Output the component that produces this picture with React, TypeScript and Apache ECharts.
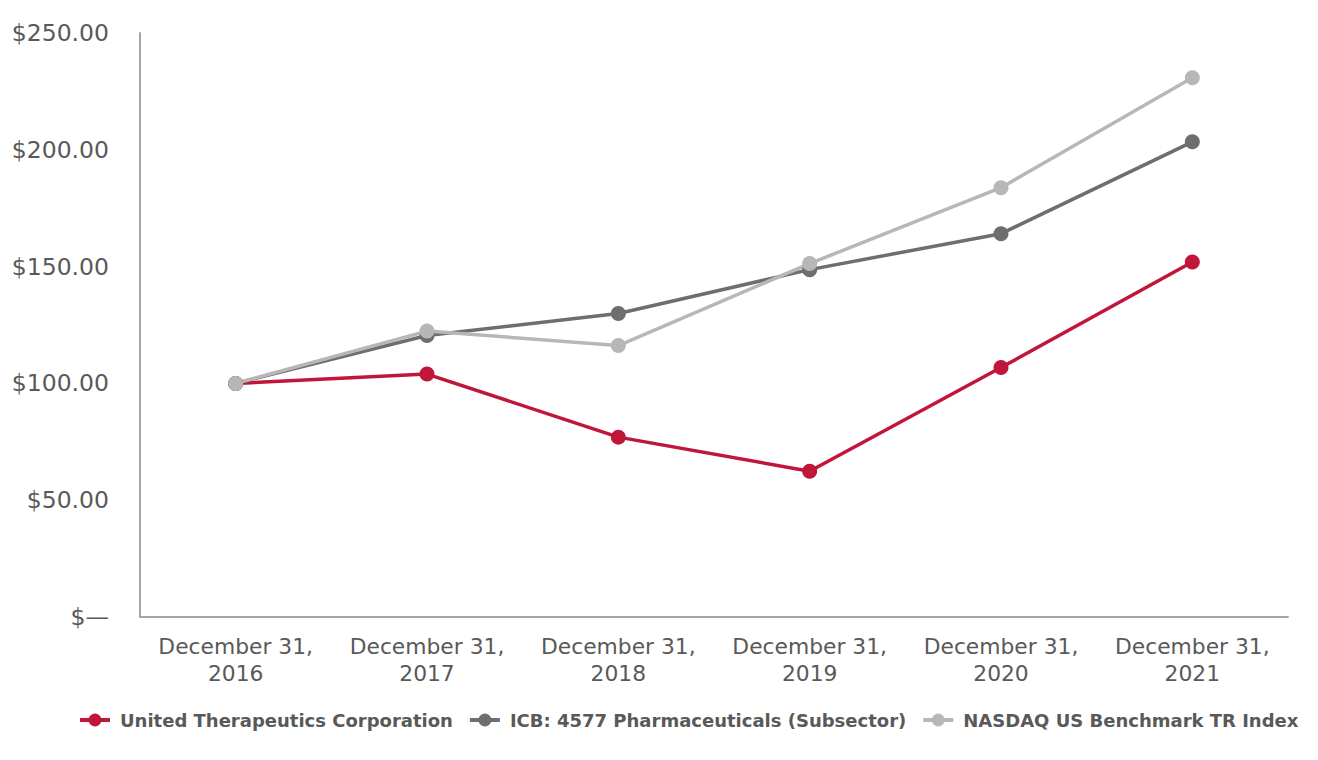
import React, { useEffect, useRef } from "react";
import * as echarts from "echarts";

const categories = [
  "December 31,\n2016",
  "December 31,\n2017",
  "December 31,\n2018",
  "December 31,\n2019",
  "December 31,\n2020",
  "December 31,\n2021",
];
const uthr = [100, 104.0, 77.0, 62.4, 106.8, 152.0];
const icb = [100, 120.5, 129.9, 148.7, 164.1, 203.4];
const nasdaq = [100, 122.4, 116.2, 151.3, 183.8, 230.8];
const seriesNames = [
  "United Therapeutics Corporation",
  "ICB: 4577 Pharmaceuticals (Subsector)",
  "NASDAQ US Benchmark TR Index",
];
const colors = ["#c0163a", "#6e6e6e", "#b7b7b7"];

export default function App() {
  const ref = useRef<HTMLDivElement>(null);
  useEffect(() => {
    if (!ref.current) return;
    const chart = echarts.init(ref.current, null, { renderer: "svg" });
    const font = "'DejaVu Sans', sans-serif";
    const mk = (name: string, data: number[], color: string) => ({
      name,
      type: "line",
      data,
      symbol: "circle",
      symbolSize: 15,
      lineStyle: { width: 3.5, color },
      itemStyle: { color },
      emphasis: { disabled: true },
    });
    chart.setOption({
      animation: false,
      textStyle: { fontFamily: font },
      grid: { left: 132, right: 22, top: 25, bottom: 135, containLabel: false },
      legend: {
        top: 703,
        left: 70,
        width: 1240,
        padding: 0,
        itemWidth: 30,
        itemHeight: 16,
        itemGap: 15,
        lineStyle: { width: 4 },
        textStyle: { fontFamily: font, fontSize: 18, fontWeight: "bold", color: "#595959", padding: [0, 0, 0, 5] },
        data: seriesNames,
      },
      xAxis: {
        type: "category",
        data: categories,
        boundaryGap: true,
        axisLine: { lineStyle: { color: "#a6a6a6", width: 2 } },
        axisTick: { show: false },
        axisLabel: {
          color: "#595959",
          fontSize: 21.8,
          lineHeight: 27,
          margin: 16,
          fontFamily: font,
          interval: 0,
        },
      },
      yAxis: {
        type: "value",
        min: 0,
        max: 250,
        interval: 50,
        axisLine: { show: true, lineStyle: { color: "#a6a6a6", width: 2 } },
        axisTick: { show: false },
        splitLine: { show: false },
        axisLabel: {
          color: "#595959",
          fontSize: 23.5,
          margin: 31,
          fontFamily: font,
          formatter: (v: number) => (v === 0 ? "$\u2014" : "$" + v.toFixed(2)),
        },
      },
      series: [
        mk(seriesNames[0], uthr, colors[0]),
        mk(seriesNames[1], icb, colors[1]),
        mk(seriesNames[2], nasdaq, colors[2]),
      ],
    });
    return () => chart.dispose();
  }, []);
  return <div ref={ref} style={{ width: 1302, height: 744 }} />;
}
